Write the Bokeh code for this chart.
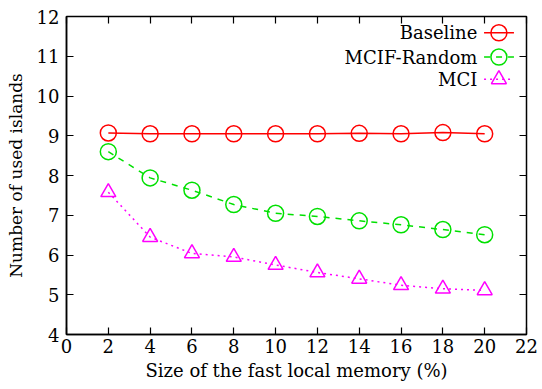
from bokeh.plotting import figure
from bokeh.models import LinearAxis, FixedTicker, Range1d, ColumnDataSource
from bokeh.core.properties import value
from bokeh.embed import file_html
from bokeh.resources import INLINE

sizes = [2, 4, 6, 8, 10, 12, 14, 16, 18, 20]
baseline = [9.07, 9.05, 9.05, 9.05, 9.05, 9.05, 9.06, 9.05, 9.08, 9.05]
mcif_random = [8.60, 7.94, 7.63, 7.27, 7.05, 6.97, 6.86, 6.76, 6.64, 6.51]
mci = [7.58, 6.45, 6.04, 5.95, 5.75, 5.56, 5.40, 5.24, 5.15, 5.11]

series_names = ["Baseline", "MCIF-Random", "MCI"]
x_ticks = list(range(0, 23, 2))
y_ticks = list(range(4, 13))

FONT = "DejaVu Serif"

p = figure(width=542, height=389, output_backend="svg", toolbar_location=None,
           x_range=Range1d(0, 22), y_range=Range1d(4, 12),
           min_border_left=66, min_border_right=16, min_border_top=16, min_border_bottom=55,
           x_axis_label="Size of the fast local memory (%)",
           y_axis_label="Number of used islands")
p.grid.visible = False
p.outline_line_color = "black"
p.outline_line_width = 1.5
p.background_fill_color = "white"
p.border_fill_color = "white"

for ax, ticks in ((p.xaxis[0], x_ticks), (p.yaxis[0], y_ticks)):
    ax.ticker = FixedTicker(ticks=ticks)
    ax.major_tick_in = 7
    ax.major_tick_out = 0
    ax.minor_tick_line_color = None
    ax.axis_line_color = "black"
    ax.axis_line_width = 1.5
    ax.major_tick_line_width = 1.2
    ax.major_label_text_font = FONT
    ax.major_label_text_font_size = "18px"
    ax.major_label_text_color = "black"
    ax.axis_label_text_font = FONT
    ax.axis_label_text_font_style = "normal"
    ax.axis_label_text_color = "black"
p.xaxis[0].axis_label_text_font_size = "18px"
p.yaxis[0].axis_label_text_font_size = "17px"
p.xaxis[0].major_label_standoff = 4
p.xaxis[0].axis_label_standoff = 4
p.yaxis[0].major_label_standoff = 7
p.yaxis[0].axis_label_standoff = 8

top = LinearAxis(ticker=FixedTicker(ticks=x_ticks), major_tick_in=7, major_tick_out=0,
                 minor_tick_line_color=None,
                 major_label_overrides={t: "" for t in x_ticks},
                 major_label_standoff=0, axis_line_color=None, major_tick_line_width=1.2)
right = LinearAxis(ticker=FixedTicker(ticks=y_ticks), major_tick_in=7, major_tick_out=0,
                   minor_tick_line_color=None,
                   major_label_overrides={t: "" for t in y_ticks},
                   major_label_standoff=0, axis_line_color=None, major_tick_line_width=1.2)
p.add_layout(top, "above")
p.add_layout(right, "right")

styles = [
    dict(color="#ff0000", dash="solid", marker="circle", size=16),
    dict(color="#00e000", dash="dashed", marker="circle", size=16),
    dict(color="#ff00ff", dash="dotted", marker="triangle", size=15),
]
data = [baseline, mcif_random, mci]

for ys, st in zip(data, styles):
    src = ColumnDataSource(dict(x=sizes, y=ys))
    p.line("x", "y", source=src, line_color=st["color"], line_width=1.5, line_dash=st["dash"])
    p.scatter("x", "y", source=src, marker=st["marker"], size=st["size"],
              fill_color=None, line_color=st["color"], line_width=1.5)

# legend (gnuplot style: label then sample on the right)
leg_y = [11.59, 10.98, 10.42]
leg_text_x = 19.65
leg_x0, leg_x1, leg_xm = 19.97, 21.4, 20.68
p.text(x=[leg_text_x] * 3, y=leg_y, text=series_names, text_align="right",
       text_baseline="middle", text_font=value(FONT), text_font_size="18px",
       text_color="black")
for yy, st in zip(leg_y, styles):
    p.line([leg_x0, leg_x1], [yy, yy], line_color=st["color"], line_width=1.5, line_dash=st["dash"])
    p.scatter([leg_xm], [yy], marker=st["marker"], size=st["size"],
              fill_color=None, line_color=st["color"], line_width=1.5)

open("out.html", "w").write(file_html(p, INLINE))
